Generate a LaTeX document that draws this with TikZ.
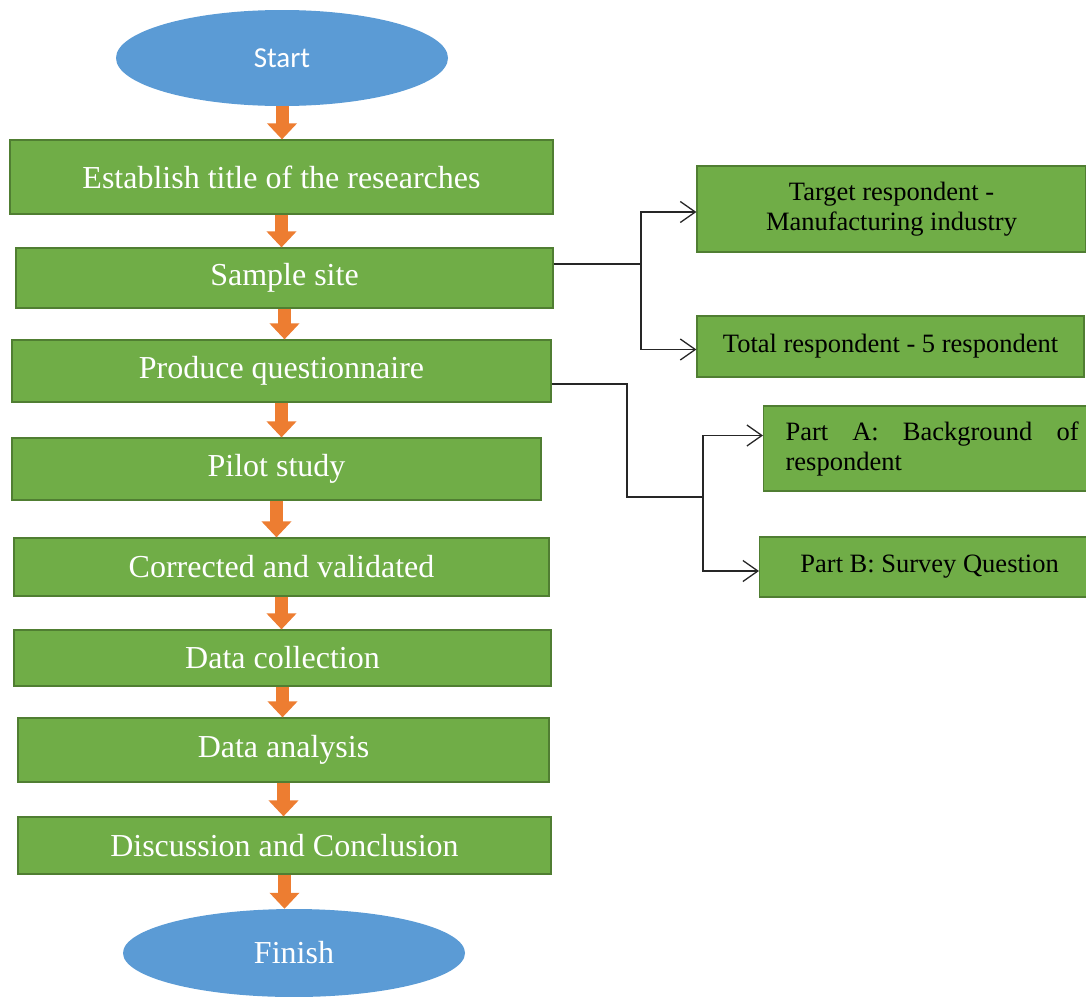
\documentclass[tikz,border=0pt]{standalone}
\usepackage{fontspec}
\setmainfont{Liberation Serif}
\newfontfamily\calfont{Carlito}
\usetikzlibrary{arrows.meta,positioning,calc,shapes.geometric}
\definecolor{leaf}{HTML}{70AD47}
\definecolor{leafdark}{HTML}{507E32}
\definecolor{sky}{HTML}{5B9BD5}
\definecolor{carrot}{HTML}{ED7D31}
\tikzset{
  term/.style={ellipse,fill=sky,text=white,inner sep=0pt},
  stage/.style={draw=leafdark,line width=1.2pt,fill=leaf,text=white,inner sep=0pt,font=\fontsize{32}{35}\selectfont},
  detail/.style={draw=leafdark,line width=1.2pt,fill=leaf,text=black,inner sep=0pt,align=center,font=\fontsize{26.5}{30}\selectfont},
  down/.style={line width=13pt,draw=carrot,-{Triangle[length=16pt,width=29pt]}},
  link/.style={line width=1.3pt,draw=black!85},
  linkto/.style={link,-{Straight Barb[length=15pt,width=21pt]}}
}

\begin{document}
\begin{tikzpicture}[x=1pt,y=-1pt]
  \useasboundingbox (0,0) rectangle (1086,996);
  % main column
  \node[term,minimum width=332pt,minimum height=96pt,font=\calfont\fontsize{29}{32}\selectfont] (start) at (282,58) {Start};
  \node[stage,minimum width=543pt,minimum height=74pt] (title) at (281.5,177) {Establish title of the researches};
  \node[stage,minimum width=537pt,minimum height=60pt] (site) at (284.5,278) {Sample site};
  \node[stage,minimum width=539pt,minimum height=62pt] (quest) at (281.5,371) {Produce questionnaire};
  \node[stage,minimum width=529pt,minimum height=62pt] (pilot) at (276.5,469) {Pilot study};
  \node[stage,minimum width=535pt,minimum height=58pt] (valid) at (281.5,567) {Corrected and validated};
  \node[stage,minimum width=537pt,minimum height=56pt] (collect) at (282.5,658) {Data collection};
  \node[stage,minimum width=531pt,minimum height=64pt] (analysis) at (283.5,750) {Data analysis};
  \node[stage,minimum width=533pt,minimum height=57pt] (concl) at (284.5,845.5) {Discussion and Conclusion};
  \node[term,minimum width=342pt,minimum height=88pt,font=\fontsize{32}{35}\selectfont] (finish) at (294,953) {Finish};
  \foreach \a/\b in {start/title,title/site,site/quest,quest/pilot,pilot/valid,valid/collect,collect/analysis,analysis/concl,concl/finish}
    \draw[down] (\a.south) -- (\a.south |- \b.north);
  % side branches
  \node[detail,minimum width=389pt,minimum height=86pt] (target) at (891.5,209) {Target respondent -\\Manufacturing industry};
  \node[detail,minimum width=387pt,minimum height=61pt] (total) at (890.5,346.5) {Total respondent - 5 respondent};
  \node[detail,anchor=west,inner xsep=22pt,text width=293pt,align=justify,minimum height=85pt] (partA) at (763,448.5) {Part A: Background of\linebreak respondent};
  \node[detail,anchor=west,minimum width=340pt,minimum height=60pt] (partB) at (759,567) {Part B: Survey Question};
  \coordinate (fork1) at (641,264);
  \coordinate (fork2) at (627,384);
  \coordinate (fork3) at (703,497);
  \draw[link] (site.east |- fork1) -- (fork1);
  \draw[linkto] (fork1) |- ($(target.west)+(0,3)$);
  \draw[linkto] (fork1) |- ($(total.west)+(0,3)$);
  \draw[link] (quest.east |- fork2) -- (fork2) |- (fork3);
  \draw[linkto] (fork3) |- ($(partA.west)+(0,-13)$);
  \draw[linkto] (fork3) |- ($(partB.west)+(0,4)$);
\end{tikzpicture}
\end{document}
